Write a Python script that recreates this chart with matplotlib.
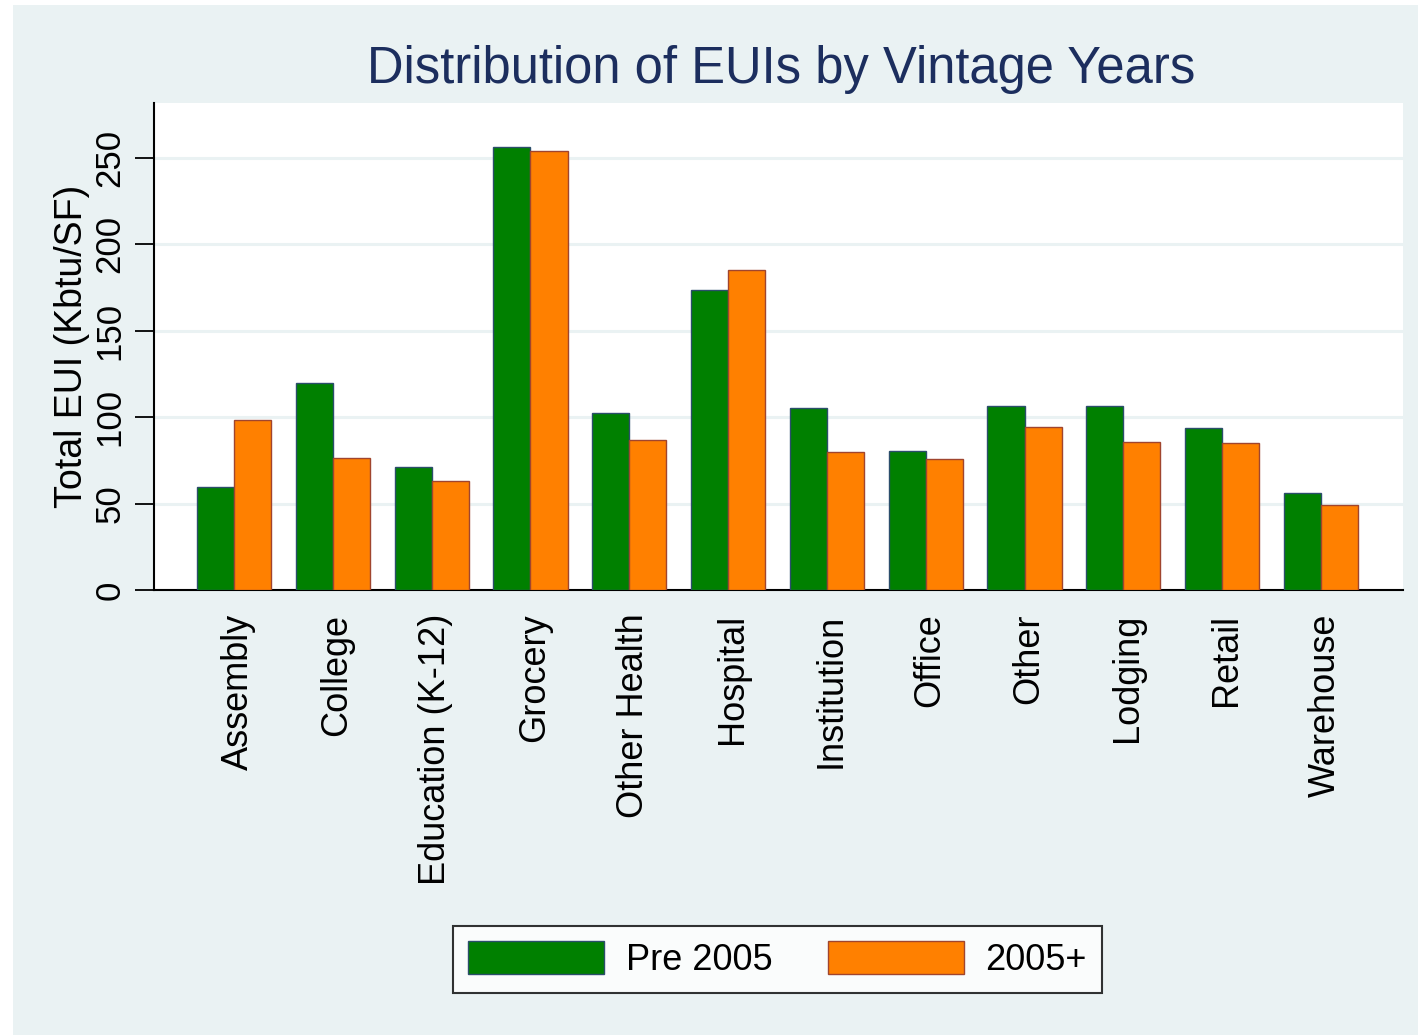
import matplotlib
matplotlib.use("Agg")
import matplotlib.pyplot as plt
import matplotlib.transforms as mtransforms
from matplotlib.patches import Rectangle
import numpy as np

categories = ["Assembly", "College", "Education (K-12)", "Grocery", "Other Health",
              "Hospital", "Institution", "Office", "Other", "Lodging", "Retail", "Warehouse"]
pre_2005 = [59.6, 119.8, 71.0, 256.5, 102.5, 173.5, 105.2, 80.4, 106.5, 106.5, 93.8, 56.0]
post_2005 = [98.5, 76.5, 63.0, 254.2, 86.6, 185.2, 80.0, 75.8, 94.3, 85.5, 85.0, 49.3]
series_labels = ["Pre 2005", "2005+"]
yticks = [0, 50, 100, 150, 200, 250]

W, H = 1418, 1035
plt.rcParams['font.family'] = ['Liberation Sans', 'DejaVu Sans']
fig = plt.figure(figsize=(W / 100, H / 100), dpi=100, facecolor='white')

bg = '#EAF2F3'
fig.patches.append(Rectangle((13 / W, 0), 1 - 13 / W, 1 - 5 / H, transform=fig.transFigure,
                             facecolor=bg, edgecolor='none', zorder=-10))

ax = fig.add_axes([154 / W, 1 - 590 / H, (1403 - 154) / W, (590 - 103) / H])
ax.set_facecolor('white')

x = np.arange(len(categories))
bw = 0.375
green, orange = '#008000', '#FF8000'
ax.bar(x - bw / 2, pre_2005, width=bw, color=green, edgecolor='#2B4E6B', linewidth=1.0,
       label=series_labels[0], zorder=3)
ax.bar(x + bw / 2, post_2005, width=bw, color=orange, edgecolor='#A0452E', linewidth=1.0,
       label=series_labels[1], zorder=3)

ax.set_xlim(-0.81, 11.83)
ax.set_ylim(0, 281.8)
ax.set_yticks(yticks)
ax.set_yticklabels([str(v) for v in yticks], rotation=90, va='center', fontsize=25)
ax.yaxis.grid(True, color=bg, linewidth=2.2, zorder=0)
ax.set_axisbelow(True)
ax.tick_params(axis='y', length=14, width=1.3, pad=6, color='black')
ax.set_xticks(x)
ax.set_xticklabels(categories, rotation=90, fontsize=26, va='top', ha='center')
ax.tick_params(axis='x', length=0, pad=17)
offset = mtransforms.ScaledTranslation(4 / 100, 0, fig.dpi_scale_trans)
for lbl in ax.get_xticklabels():
    lbl.set_transform(lbl.get_transform() + offset)

for s in ['top', 'right']:
    ax.spines[s].set_visible(False)
ax.spines['left'].set_linewidth(1.5)
ax.spines['bottom'].set_linewidth(1.5)

ax.set_ylabel("Total EUI (Kbtu/SF)", fontsize=27, labelpad=2)

fig.text(781 / W, 1 - 70 / H, "Distribution of EUIs by Vintage Years", fontsize=36.5,
         color='#1C2E5E', ha='center', va='center')

leg = fig.legend(loc='center', bbox_to_anchor=(777.5 / W, 1 - 959.5 / H), ncol=2,
                 fontsize=26, frameon=True, fancybox=False, edgecolor='black',
                 handlelength=3.75, handleheight=1.0, columnspacing=1.55,
                 handletextpad=0.6, borderpad=0.42, borderaxespad=0)
leg.get_frame().set_linewidth(1.5)

fig.savefig("out.png", dpi=100, facecolor=fig.get_facecolor())
